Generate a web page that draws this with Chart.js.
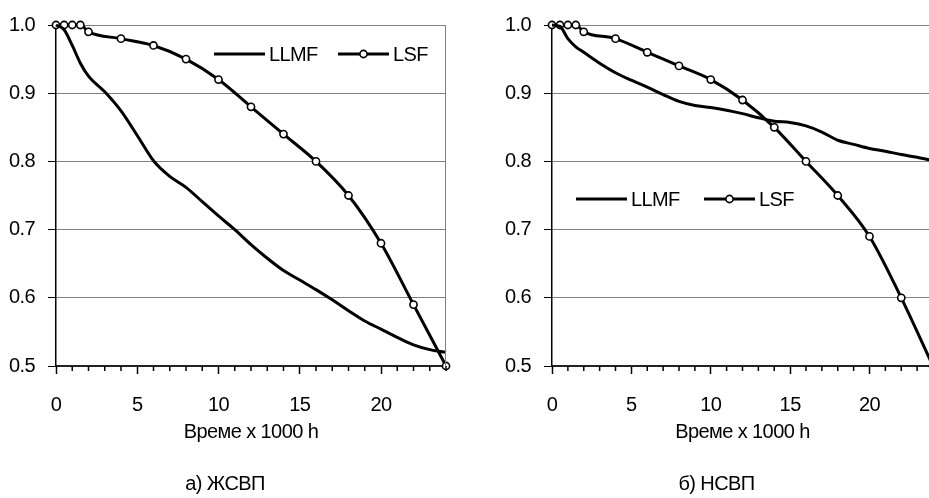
<!DOCTYPE html>
<html><head><meta charset="utf-8">
<script src="https://cdn.jsdelivr.net/npm/chart.js@4.4.0/dist/chart.umd.min.js"></script>
<style>
html,body{margin:0;padding:0;background:#fff;overflow:hidden;width:929px;height:498px;position:relative;}
#cA{position:absolute;left:0;top:0;}
#cB{position:absolute;left:466px;top:0;}
</style></head><body>
<canvas id="cA" width="466" height="498"></canvas>
<canvas id="cB" width="516" height="498"></canvas>
<script>
// ---- data ----
const seriesNames = ['LLMF', 'LSF'];
const xAxisTitle = 'Време x 1000 h';
const panelTitles = ['а) ЖСВП', 'б) НСВП'];
const xMin = 0, xMax = 24, xMajorStep = 5;
const yMin = 0.5, yMax = 1.0, yStep = 0.1;

// panel a) ЖСВП
const llmfX_A = [0, 0.5, 1, 1.5, 2, 3, 4, 5, 6, 7, 8, 9, 10, 11, 12, 13, 14, 15, 16, 17, 18, 19, 20, 21, 22, 23, 24];
const llmfY_A = [1.0, 0.993, 0.970, 0.944, 0.925, 0.902, 0.874, 0.838, 0.801, 0.778, 0.762, 0.741, 0.720, 0.700, 0.678, 0.658, 0.640, 0.626, 0.612, 0.597, 0.581, 0.566, 0.554, 0.542, 0.531, 0.524, 0.520];
const lsfX_A = [0, 0.5, 1, 1.5, 2, 4, 6, 8, 10, 12, 14, 16, 18, 20, 22, 24];
const lsfY_A = [1.0, 1.0, 1.0, 1.0, 0.99, 0.98, 0.97, 0.95, 0.92, 0.88, 0.84, 0.80, 0.75, 0.68, 0.59, 0.50];

// panel б) НСВП
const llmfX_B = [0, 0.5, 1, 1.5, 2, 3, 4, 5, 6, 7, 8, 9, 10, 11, 12, 13, 14, 15, 16, 17, 18, 19, 20, 21, 22, 23, 24];
const llmfY_B = [1.0, 0.998, 0.980, 0.968, 0.960, 0.944, 0.930, 0.919, 0.909, 0.898, 0.888, 0.882, 0.879, 0.875, 0.870, 0.864, 0.859, 0.857, 0.852, 0.843, 0.831, 0.825, 0.819, 0.815, 0.810, 0.806, 0.801];
const lsfX_B = [0, 0.5, 1, 1.5, 2, 4, 6, 8, 10, 12, 14, 16, 18, 20, 22, 24];
const lsfY_B = [1.0, 1.0, 1.0, 1.0, 0.99, 0.98, 0.96, 0.94, 0.92, 0.89, 0.85, 0.80, 0.75, 0.69, 0.60, 0.50];

// ---- rendering ----
const FONT = "'Liberation Sans', Arial, sans-serif";
const FS = 20;
Chart.defaults.font.family = FONT;
Chart.defaults.font.size = FS;
Chart.defaults.color = '#000';

const toPts = (xs, ys) => xs.map((x, i) => ({x: x, y: ys[i]}));

// slightly condensed lettering, as in the original narrow typeface
const condensePlugin = {
  id: 'condense',
  afterInit(chart) { chart.ctx.letterSpacing = '-0.6px'; },
  beforeDraw(chart) { chart.ctx.letterSpacing = '-0.6px'; }
};

const framePlugin = {
  id: 'frame',
  afterDraw(chart) {
    const {ctx, chartArea: a, scales} = chart;
    ctx.save();
    ctx.strokeStyle = '#808080';
    ctx.lineWidth = 1;
    ctx.beginPath();
    ctx.moveTo(Math.round(a.right) - 0.5, a.top);
    ctx.lineTo(Math.round(a.right) - 0.5, a.bottom);
    ctx.stroke();
    ctx.strokeStyle = '#000';
    ctx.lineWidth = 1.5;
    const xs = scales.x;
    for (let v = xMin; v <= xMax; v++) {
      if (v % xMajorStep === 0) continue;
      const px = xs.getPixelForValue(v);
      ctx.beginPath();
      ctx.moveTo(px, a.bottom);
      ctx.lineTo(px, a.bottom + 5);
      ctx.stroke();
    }
    ctx.restore();
  }
};

const legendPlugin = {
  id: 'inLegend',
  afterDatasetsDraw(chart, args, opts) {
    const {ctx} = chart;
    ctx.save();
    ctx.font = FS + 'px ' + FONT;
    ctx.textBaseline = 'middle';
    ctx.textAlign = 'left';
    chart.data.datasets.forEach((ds, i) => {
      const x0 = opts.xs[i], y = opts.y, len = 51;
      ctx.strokeStyle = ds.borderColor;
      ctx.lineWidth = ds.borderWidth;
      ctx.beginPath();
      ctx.moveTo(x0, y);
      ctx.lineTo(x0 + len, y);
      ctx.stroke();
      if (ds.pointRadius > 0) {
        ctx.fillStyle = ds.pointBackgroundColor;
        ctx.strokeStyle = ds.pointBorderColor;
        ctx.lineWidth = ds.pointBorderWidth;
        ctx.beginPath();
        ctx.arc(x0 + len / 2, y, ds.pointRadius, 0, Math.PI * 2);
        ctx.fill();
        ctx.stroke();
      }
      ctx.fillStyle = '#000';
      ctx.fillText(ds.label, x0 + len + 4, y + 1);
    });
    ctx.restore();
  }
};

function makeChart(canvasId, llmfX, llmfY, lsfX, lsfY, title, padding, legendXs, legendY) {
  return new Chart(document.getElementById(canvasId), {
    type: 'line',
    data: {
      datasets: [
        {
          label: seriesNames[0],
          data: toPts(llmfX, llmfY),
          borderColor: '#000',
          borderWidth: 3,
          pointRadius: 0,
          cubicInterpolationMode: 'monotone',
          fill: false,
          clip: false
        },
        {
          label: seriesNames[1],
          data: toPts(lsfX, lsfY),
          borderColor: '#000',
          borderWidth: 3,
          pointRadius: 3.6,
          pointBackgroundColor: '#fff',
          pointBorderColor: '#000',
          pointBorderWidth: 1.6,
          cubicInterpolationMode: 'monotone',
          fill: false,
          clip: false
        }
      ]
    },
    options: {
      responsive: false,
      animation: false,
      events: [],
      layout: {padding: padding},
      plugins: {
        legend: {display: false},
        tooltip: {enabled: false},
        title: {
          display: true,
          position: 'bottom',
          text: title,
          color: '#000',
          font: {size: FS, weight: 'normal', family: FONT},
          padding: {top: 28, bottom: 2}
        },
        inLegend: {xs: legendXs, y: legendY}
      },
      scales: {
        x: {
          type: 'linear',
          min: xMin, max: xMax,
          afterFit: (s) => { s.height = 78; },
          ticks: {
            stepSize: 1,
            autoSkip: false,
            maxRotation: 0,
            padding: 19,
            color: '#000',
            callback: (v) => (v % xMajorStep === 0 && v < xMax) ? String(v) : ''
          },
          grid: {
            drawOnChartArea: false,
            drawTicks: true,
            tickLength: 8,
            tickWidth: 1.5,
            tickColor: (c) => (c.tick && c.tick.value % xMajorStep === 0) ? '#000' : 'rgba(0,0,0,0)'
          },
          border: {display: true, color: '#222', width: 2},
          title: {
            display: true,
            text: xAxisTitle,
            color: '#000',
            padding: {top: 0, bottom: 0}
          }
        },
        y: {
          type: 'linear',
          min: yMin, max: yMax,
          afterFit: (s) => { s.width = 52; },
          ticks: {
            stepSize: yStep,
            padding: 13,
            color: '#000',
            callback: (v) => Number(v).toFixed(1)
          },
          grid: {
            color: '#808080',
            lineWidth: 1,
            drawTicks: true,
            tickLength: 8,
            tickColor: '#000',
            tickWidth: 1
          },
          border: {display: true, color: '#000', width: 1.5}
        }
      }
    },
    plugins: [condensePlugin, framePlugin, legendPlugin]
  });
}

makeChart('cA', llmfX_A, llmfY_A, lsfX_A, lsfY_A, panelTitles[0],
  {left: 4, right: 20, top: 23, bottom: 0}, [214, 338], 54);
makeChart('cB', llmfX_B, llmfY_B, lsfX_B, lsfY_B, panelTitles[1],
  {left: 34, right: 49, top: 25, bottom: 0}, [110, 238], 199);
</script>
</body></html>
